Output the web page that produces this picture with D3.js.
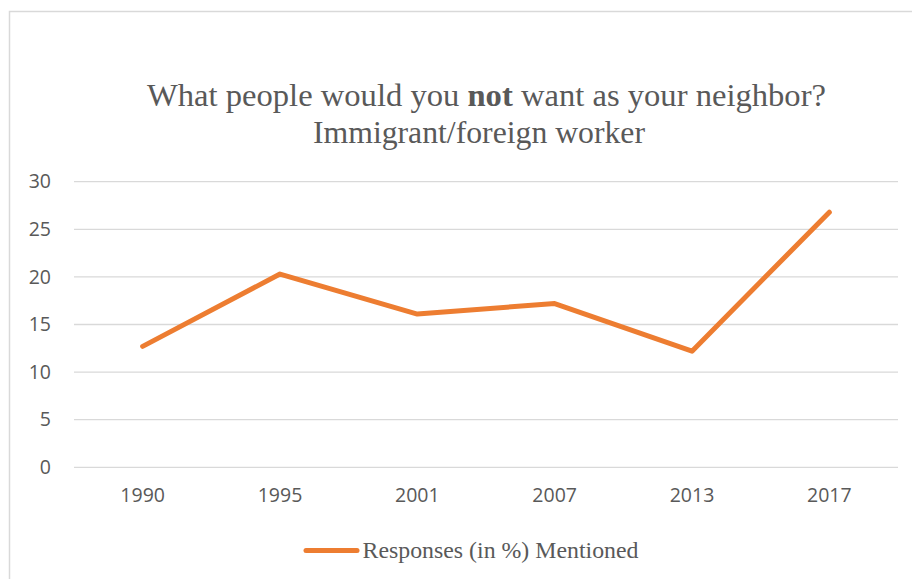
<!DOCTYPE html>
<html>
<head>
<meta charset="utf-8">
<script src="https://cdn.jsdelivr.net/npm/d3@7"></script>
<style>
  html, body { margin: 0; padding: 0; background: #ffffff; }
  svg { display: block; }
</style>
</head>
<body>
<svg id="chart" width="912" height="579"></svg>
<script>
const categories = ["1990", "1995", "2001", "2007", "2013", "2017"];
const values = [12.7, 20.3, 16.1, 17.2, 12.2, 26.8];
const yTicks = [0, 5, 10, 15, 20, 25, 30];
const seriesName = "Responses (in %) Mentioned";
const titleLine1 = ["What people would you ", "not", " want as your neighbor?"];
const titleLine2 = "Immigrant/foreign worker";

const svg = d3.select("#chart");
const plot = { left: 74, right: 898, top: 181.7, bottom: 467.3 };

// chart frame
svg.append("rect")
  .attr("x", 9.5).attr("y", 11.5)
  .attr("width", 1000).attr("height", 1000)
  .attr("fill", "#fff")
  .attr("stroke", "#d9d9d9").attr("stroke-width", 1.5);

const x = d3.scaleBand().domain(categories).range([plot.left, plot.right]);
const y = d3.scaleLinear().domain([0, 30]).range([plot.bottom, plot.top]);

// gridlines
svg.append("g").selectAll("line").data(yTicks).join("line")
  .attr("x1", plot.left).attr("x2", plot.right)
  .attr("y1", d => y(d)).attr("y2", d => y(d))
  .attr("stroke", "#d9d9d9").attr("stroke-width", 1.3);

// y axis labels
const yAxis = d3.axisLeft(y).tickValues(yTicks).tickSize(0).tickPadding(0);
const yg = svg.append("g").attr("transform", "translate(51,0)").call(yAxis);
yg.select(".domain").remove();
yg.selectAll("text")
  .attr("fill", "#595959")
  .style("font-family", "'Open Sans', 'Noto Sans', sans-serif")
  .style("font-size", "19.5px");

// x axis labels
const xAxis = d3.axisBottom(x).tickSize(0).tickPadding(0);
const xg = svg.append("g").attr("transform", "translate(0,488)").call(xAxis);
xg.select(".domain").remove();
xg.selectAll("text")
  .attr("fill", "#595959")
  .style("font-family", "'Open Sans', 'Noto Sans', sans-serif")
  .style("font-size", "19.5px");

// line
const line = d3.line()
  .x((d, i) => x(categories[i]) + x.bandwidth() / 2)
  .y(d => y(d));
svg.append("path")
  .datum(values)
  .attr("d", line)
  .attr("fill", "none")
  .attr("stroke", "#ED7D31")
  .attr("stroke-width", 5)
  .attr("stroke-linejoin", "round")
  .attr("stroke-linecap", "round");

// title
const title = svg.append("text")
  .attr("x", 147).attr("y", 106)
  .attr("textLength", 679).attr("lengthAdjust", "spacingAndGlyphs")
  .attr("fill", "#595959")
  .style("font-family", "'Liberation Serif', 'Times New Roman', serif")
  .style("font-size", "30.5px");
titleLine1.forEach((t, i) => {
  title.append("tspan").text(t).attr("font-weight", i === 1 ? "bold" : "normal");
});
svg.append("text")
  .attr("x", 313).attr("y", 143)
  .attr("textLength", 332).attr("lengthAdjust", "spacingAndGlyphs")
  .attr("fill", "#595959")
  .style("font-family", "'Liberation Serif', 'Times New Roman', serif")
  .style("font-size", "30.5px")
  .text(titleLine2);

// legend
const lg = svg.append("g");
lg.append("line")
  .attr("x1", 306).attr("x2", 357)
  .attr("y1", 550.5).attr("y2", 550.5)
  .attr("stroke", "#ED7D31").attr("stroke-width", 5)
  .attr("stroke-linecap", "round");
lg.append("text")
  .attr("x", 362.5).attr("y", 558.3)
  .attr("textLength", 276).attr("lengthAdjust", "spacingAndGlyphs")
  .attr("fill", "#595959")
  .style("font-family", "'Liberation Serif', 'Times New Roman', serif")
  .style("font-size", "23.5px")
  .text(seriesName);
</script>
</body>
</html>
